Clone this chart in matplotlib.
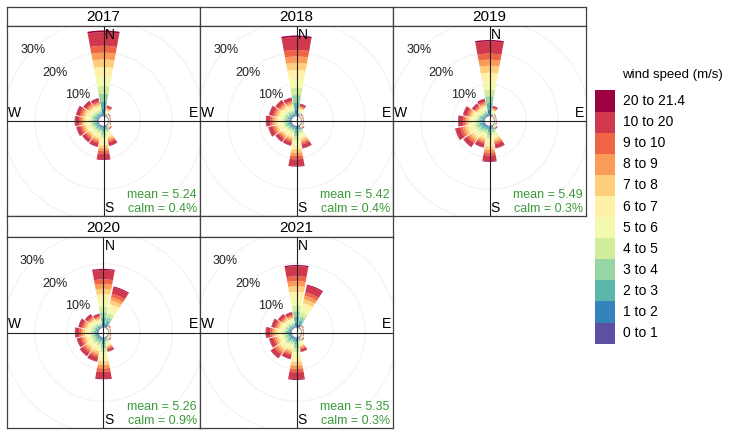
import numpy as np
import matplotlib
matplotlib.use('Agg')
import matplotlib.pyplot as plt
from matplotlib.patches import Wedge, Circle, Rectangle

plt.rcParams['font.family'] = ['Liberation Sans', 'DejaVu Sans']

# ------------------------------------------------------------
# data: frequency (%) per direction sector, N clockwise
# ------------------------------------------------------------
directions = ['N', 'NNE', 'NE', 'ENE', 'E', 'ESE', 'SE', 'SSE',
              'S', 'SSW', 'SW', 'WSW', 'W', 'WNW', 'NW', 'NNW']
years = ['2017', '2018', '2019', '2020', '2021']

freq_2017 = [27.0, 3.4, 1.2, 0.8, 0.8, 0.9, 1.6, 6.5, 10.7, 6.8, 6.6, 7.2, 7.5, 7.3, 6.2, 5.8]
freq_2018 = [25.4, 4.0, 1.1, 0.8, 0.7, 0.8, 1.5, 7.3, 12.8, 6.4, 6.5, 7.5, 8.1, 7.3, 6.5, 6.0]
freq_2019 = [24.0, 3.3, 1.0, 0.7, 0.7, 0.8, 1.6, 7.3, 11.3, 7.0, 8.5, 9.5, 8.3, 7.0, 5.2, 5.6]
freq_2020 = [18.4, 13.2, 1.2, 0.8, 0.7, 0.9, 1.4, 4.6, 13.1, 7.8, 7.5, 7.0, 7.4, 6.5, 5.5, 4.5]
freq_2021 = [19.6, 13.8, 1.2, 0.8, 0.7, 0.8, 1.4, 4.7, 13.3, 7.0, 8.3, 7.2, 8.1, 6.5, 5.5, 5.0]

mean_speed = [5.24, 5.42, 5.49, 5.26, 5.35]
calm_pct = [0.4, 0.4, 0.3, 0.9, 0.3]

# speed bands and the share of each petal taken by each band
speed_labels = ['0 to 1', '1 to 2', '2 to 3', '3 to 4', '4 to 5', '5 to 6',
                '6 to 7', '7 to 8', '8 to 9', '9 to 10', '10 to 20', '20 to 21.4']
band_share = [0.02, 0.06, 0.09, 0.09, 0.09, 0.11, 0.11, 0.09, 0.08, 0.08, 0.16, 0.02]

grid_levels = [10, 20, 30]

all_freq = [freq_2017, freq_2018, freq_2019, freq_2020, freq_2021]

colors = plt.cm.Spectral_r(np.linspace(0, 1, len(speed_labels)))

W, H = 741, 430
OFF = 1.6          # hollow centre (%)
LIM = 30.0         # half height of a panel (%)
HALF = 10.25       # half width of a petal (deg)

# panel boxes in pixels: (strip top, strip bottom, bottom)
col_x = [7, 200, 393, 586]
rows = [(7, 26, 216), (216, 237, 428)]


def px_axes(fig, x0, y0, x1, y1):
    return fig.add_axes([x0 / W, 1 - y1 / H, (x1 - x0) / W, (y1 - y0) / H])


def draw_rose(ax, freq, mean, calm, w_px, h_px):
    xlim = LIM * w_px / h_px
    ax.set_xlim(-xlim, xlim)
    ax.set_ylim(-LIM, LIM)

    # faint grid circles
    for lev in [0] + grid_levels:
        ax.add_patch(Circle((0, 0), lev + OFF, fill=False, ec='#f2f2f2', lw=0.8, zorder=1))

    # stacked petals
    for bearing_i, total in enumerate(freq):
        bearing = bearing_i * 22.5
        theta = 90 - bearing
        inner = OFF
        for k, share in enumerate(band_share):
            outer = inner + total * share
            ax.add_patch(Wedge((0, 0), outer, theta - HALF, theta + HALF,
                               width=outer - inner, fc=colors[k], ec='none', zorder=2))
            inner = outer

    ax.add_patch(Circle((0, 0), OFF, fc='white', ec='#9a9a9a', lw=0.6, zorder=3))
    ax.axhline(0, color='#222222', lw=0.8, zorder=4)
    ax.axvline(0, color='#222222', lw=0.8, zorder=4)

    # percent labels along the north-west diagonal
    for lev in grid_levels:
        r = lev + OFF
        ax.text(r * np.sin(np.radians(315)), r * np.cos(np.radians(315)), f'{lev}%',
                ha='center', va='center', fontsize=9, color='#222222', zorder=5)

    ax.text(0.3, LIM - 0.6, 'N', ha='left', va='top', fontsize=10, zorder=5)
    ax.text(0.3, -LIM + 0.3, 'S', ha='left', va='bottom', fontsize=10, zorder=5)
    ax.text(xlim - 0.5, 0.4, 'E', ha='right', va='bottom', fontsize=10, zorder=5)
    ax.text(-xlim + 0.3, 0.4, 'W', ha='left', va='bottom', fontsize=10, zorder=5)

    ax.text(xlim - 1.0, -LIM + 4.8, f'mean = {mean:.2f}', ha='right', va='bottom',
            fontsize=9, color='#3a9a3a', zorder=5)
    ax.text(xlim - 1.0, -LIM + 0.3, f'calm = {calm}%', ha='right', va='bottom',
            fontsize=9, color='#3a9a3a', zorder=5)

    ax.set_xticks([])
    ax.set_yticks([])
    for s in ax.spines.values():
        s.set_color('#404040')
        s.set_linewidth(0.9)


fig = plt.figure(figsize=(W / 100, H / 100), dpi=100)
fig.patch.set_facecolor('white')

for i, year in enumerate(years):
    r, c = divmod(i, 3)
    top, strip_bot, bot = rows[r]
    x0, x1 = col_x[c], col_x[c + 1]

    sax = px_axes(fig, x0, top, x1, strip_bot)
    sax.set_xticks([])
    sax.set_yticks([])
    sax.set_facecolor('white')
    sax.text(0.5, 0.45, year, ha='center', va='center', fontsize=11, transform=sax.transAxes)
    for s in sax.spines.values():
        s.set_color('#404040')
        s.set_linewidth(0.9)

    ax = px_axes(fig, x0, strip_bot, x1, bot)
    draw_rose(ax, all_freq[i], mean_speed[i], calm_pct[i], x1 - x0, bot - strip_bot)

# legend: colour boxes from the bottom band up
lax = px_axes(fig, 590, 60, 741, 360)
lax.set_xlim(590, 741)
lax.set_ylim(360, 60)
lax.axis('off')
lax.text(622, 75, 'wind speed (m/s)', ha='left', va='center', fontsize=9.5)
box_top, box_h = 90.5, 21.1
n = len(speed_labels)
for k, lab in enumerate(speed_labels):
    y = box_top + (n - 1 - k) * box_h
    lax.add_patch(Rectangle((595, y), 20, box_h, fc=colors[k], ec='none'))
    lax.text(623, y + box_h / 2, lab, ha='left', va='center', fontsize=10)

fig.savefig('out.png', dpi=100)
